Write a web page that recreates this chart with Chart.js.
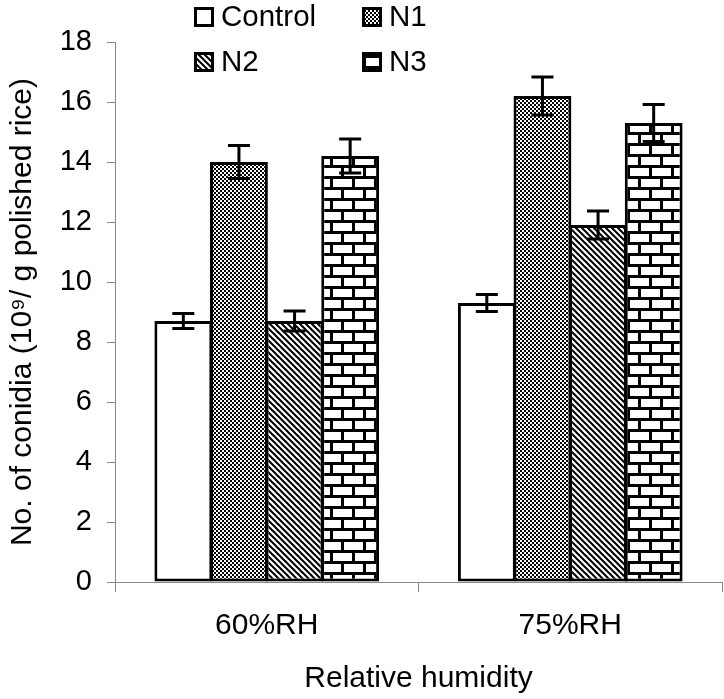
<!DOCTYPE html>
<html>
<head>
<meta charset="utf-8">
<script src="https://cdn.jsdelivr.net/npm/chart.js@4.4.1/dist/chart.umd.min.js"></script>
<style>
  html, body { margin: 0; padding: 0; background: #fff; }
  canvas { display: block; }
</style>
</head>
<body>
<canvas id="chart" width="724" height="699"></canvas>
<script>
const categories = ["60%RH", "75%RH"];
const seriesNames = ["Control", "N1", "N2", "N3"];
const controlValues = [8.7, 9.3];
const controlErrors = [0.25, 0.28];
const n1Values = [14.0, 16.2];
const n1Errors = [0.55, 0.63];
const n2Values = [8.7, 11.9];
const n2Errors = [0.33, 0.47];
const n3Values = [14.2, 15.3];
const n3Errors = [0.57, 0.62];
const yMin = 0;
const yMax = 18;
const yStep = 2;

const canvas = document.getElementById("chart");
const ctx = canvas.getContext("2d");
const fontFamily = "'Liberation Sans', Arial, sans-serif";

function makePattern(kind) {
    const tile = document.createElement("canvas");
    const t = tile.getContext("2d");
    if (kind === "plain") {
        return "#ffffff";
    }
    if (kind === "checker") {
        tile.width = 4;
        tile.height = 4;
        t.fillStyle = "#000";
        t.fillRect(0, 0, 4, 4);
        t.fillStyle = "#fff";
        t.fillRect(0, 0, 2, 2);
        t.fillRect(2, 2, 2, 2);
    } else if (kind === "diagonal") {
        tile.width = 6;
        tile.height = 6;
        t.fillStyle = "#fff";
        t.fillRect(0, 0, 6, 6);
        t.strokeStyle = "#000";
        t.lineWidth = 2;
        t.beginPath();
        for (let k = -6; k <= 6; k += 6) {
            t.moveTo(k - 1, -1);
            t.lineTo(k + 7, 7);
        }
        t.stroke();
    } else if (kind === "brick") {
        tile.width = 22;
        tile.height = 22;
        t.fillStyle = "#fff";
        t.fillRect(0, 0, 22, 22);
        t.fillStyle = "#000";
        t.fillRect(0, 0, 22, 3);
        t.fillRect(0, 11, 22, 3);
        t.fillRect(0, 0, 3, 11);
        t.fillRect(11, 11, 3, 11);
    }
    return ctx.createPattern(tile, "repeat");
}

const fills = [makePattern("plain"), makePattern("checker"), makePattern("diagonal"), makePattern("brick")];
const values = [controlValues, n1Values, n2Values, n3Values];
const errors = [controlErrors, n1Errors, n2Errors, n3Errors];

const datasets = seriesNames.map((name, i) => ({
    label: name,
    data: values[i],
    errors: errors[i],
    backgroundColor: fills[i],
    borderColor: "#000",
    borderWidth: 3,
    borderSkipped: false,
    categoryPercentage: 0.733,
    barPercentage: 1.04
}));

const errorBars = {
    id: "errorBars",
    afterDatasetsDraw(chart) {
        const c = chart.ctx;
        const yScale = chart.scales.y;
        const capHalf = 11;
        c.save();
        c.strokeStyle = "#000";
        c.lineWidth = 3;
        chart.data.datasets.forEach((ds, i) => {
            const meta = chart.getDatasetMeta(i);
            meta.data.forEach((bar, j) => {
                const top = yScale.getPixelForValue(ds.data[j] + ds.errors[j]);
                const bottom = yScale.getPixelForValue(ds.data[j] - ds.errors[j]);
                c.beginPath();
                c.moveTo(bar.x, top);
                c.lineTo(bar.x, bottom);
                c.moveTo(bar.x - capHalf, top);
                c.lineTo(bar.x + capHalf, top);
                c.moveTo(bar.x - capHalf, bottom);
                c.lineTo(bar.x + capHalf, bottom);
                c.stroke();
            });
        });
        c.restore();
    }
};

// legend in two rows of two, drawn by hand
const gridLegend = {
    id: "gridLegend",
    afterDraw(chart) {
        const c = chart.ctx;
        const cols = [194, 362];
        const rows = [7, 52];
        const box = 20;
        c.save();
        c.font = "29.5px " + fontFamily;
        c.textBaseline = "alphabetic";
        c.textAlign = "left";
        chart.data.datasets.forEach((ds, i) => {
            const x = cols[i % 2];
            const y = rows[Math.floor(i / 2)];
            c.fillStyle = ds.backgroundColor;
            c.fillRect(x, y, box, box);
            c.strokeStyle = "#000";
            c.lineWidth = 3;
            c.strokeRect(x + 1.5, y + 1.5, box - 3, box - 3);
            c.fillStyle = "#000";
            c.fillText(ds.label, x + box + 7, y + 19);
        });
        c.restore();
    }
};

const chart = new Chart(ctx, {
    type: "bar",
    data: { labels: categories, datasets: datasets },
    plugins: [errorBars, gridLegend],
    options: {
        responsive: false,
        animation: false,
        layout: { padding: { top: 42, right: 2, left: 0, bottom: 0 } },
        plugins: {
            legend: { display: false },
            tooltip: { enabled: false }
        },
        scales: {
            x: {
                afterFit(scale) { scale.height = 117; },
                grid: { display: true, drawOnChartArea: false, offset: true, tickLength: 10, color: "#888", lineWidth: 1 },
                border: { display: true, color: "#888", width: 1 },
                ticks: { color: "#000", padding: 16, font: { family: fontFamily, size: 30 } },
                title: {
                    display: true,
                    text: "Relative humidity",
                    color: "#000",
                    padding: { top: 0, bottom: 2 },
                    font: { family: fontFamily, size: 30 }
                }
            },
            y: {
                min: yMin,
                max: yMax,
                afterFit(scale) { scale.width = 115; },
                grid: { display: true, drawOnChartArea: false, tickLength: 8, color: "#888", lineWidth: 1 },
                border: { display: true, color: "#888", width: 1 },
                ticks: { stepSize: yStep, color: "#000", padding: 15, font: { family: fontFamily, size: 29 } },
                title: {
                    display: true,
                    text: "No. of conidia (10⁹/ g polished rice)",
                    color: "#000",
                    padding: { top: 5, bottom: 0 },
                    font: { family: fontFamily, size: 30 }
                }
            }
        }
    }
});
</script>
</body>
</html>
